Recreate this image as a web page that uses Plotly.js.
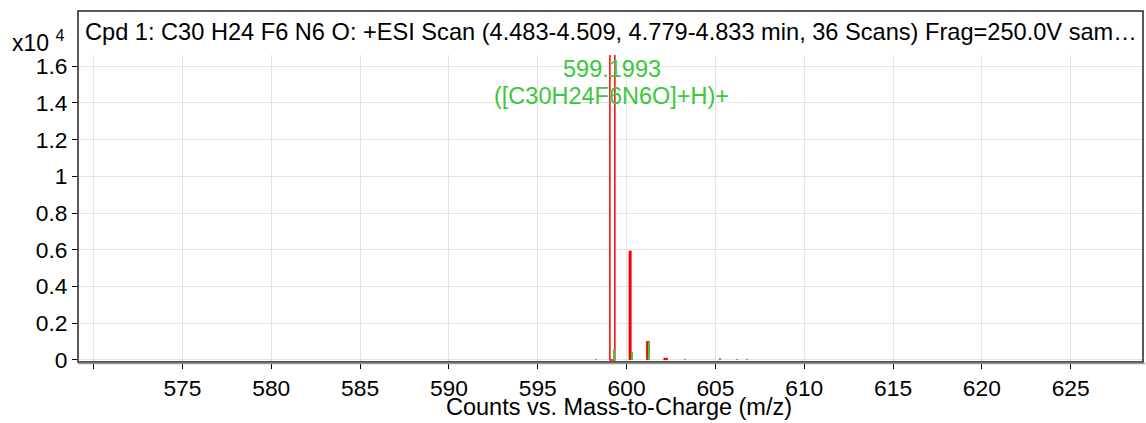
<!DOCTYPE html>
<html>
<head>
<meta charset="utf-8">
<script src="https://cdn.plot.ly/plotly-3.0.1.min.js"></script>
<style>html,body{margin:0;padding:0;background:#fff;}#chart{width:1146px;height:423px;}</style>
</head>
<body>
<div id="chart"></div>
<script>
// Measured spectrum (red) — m/z and counts (x10^4)
const measuredMz = [599.2, 600.2, 601.2, 602.2];
const measuredCounts = [1.70, 0.595, 0.103, 0.012];
const measuredFill = ['#ffffff', '#ff0000', '#ff0000', '#ff0000'];
const measuredWidth = [0.28, 0.17, 0.2, 0.25];
const measuredLine = [1.5, 0, 0, 0];

// Green (predicted / other) sticks
const greenMz = [598.27, 599.30, 600.31, 601.27, 603.28, 605.25, 606.2, 606.8];
const greenCounts = [0.004, 0.06, 0.044, 0.096, 0.004, 0.01, 0.004, 0.004];

// Axis ticks
const xTickVals = [570, 575, 580, 585, 590, 595, 600, 605, 610, 615, 620, 625];
const xTickText = ['', '575', '580', '585', '590', '595', '600', '605', '610', '615', '620', '625'];
const yTickVals = [0, 0.2, 0.4, 0.6, 0.8, 1, 1.2, 1.4, 1.6];

// Texts
const titleText = 'Cpd 1: C30 H24 F6 N6 O: +ESI Scan (4.483-4.509, 4.779-4.833 min, 36 Scans) Frag=250.0V sam\u2026';
const xTitle = 'Counts vs. Mass-to-Charge (m/z)';
const peakLabel1 = '599.1993';
const peakLabel2 = '([C30H24F6N6O]+H)+';

const FONT = 'Liberation Sans, Arial, sans-serif';
const green = 'rgb(60,200,60)';

const traces = [
  {
    type: 'bar', x: measuredMz, y: measuredCounts, width: measuredWidth,
    marker: {color: measuredFill, line: {color: '#ff0000', width: measuredLine}},
    hoverinfo: 'x+y', showlegend: false
  },
  {
    type: 'bar', x: greenMz, y: greenCounts, width: 0.11,
    marker: {color: green, line: {width: 0}},
    hoverinfo: 'x+y', showlegend: false
  }
];

const layout = {
  width: 1146, height: 423,
  margin: {l: 78, r: 3, t: 11, b: 61, pad: 0},
  paper_bgcolor: '#fff', plot_bgcolor: '#fff',
  barmode: 'overlay', bargap: 0,
  font: {family: FONT, size: 22, color: '#000'},
  showlegend: false,
  xaxis: {
    range: [569.12, 629.07],
    tickmode: 'array', tickvals: xTickVals, ticktext: xTickText,
    ticks: 'outside', ticklen: 6, tickcolor: '#000', tickwidth: 1,
    showgrid: true, gridcolor: '#e3e3e3', gridwidth: 1,
    zeroline: false, showline: false,
    tickfont: {family: FONT, size: 22.8, color: '#000'}
  },
  yaxis: {
    domain: [0, 0.8746],
    range: [-0.0109, 1.66],
    tickmode: 'array', tickvals: yTickVals,
    ticks: 'outside', ticklen: 5, tickcolor: '#000', tickwidth: 1,
    showgrid: true, gridcolor: '#e3e3e3', gridwidth: 1,
    zeroline: false, showline: false,
    tickfont: {family: FONT, size: 22.8, color: '#000'}
  },
  shapes: [
    {type: 'rect', xref: 'paper', yref: 'paper', x0: 0, x1: 1, y0: 0, y1: 1,
     line: {color: '#222', width: 1.5}, fillcolor: 'rgba(0,0,0,0)', layer: 'above'},
    {type: 'line', xref: 'paper', yref: 'paper', x0: 0, x1: 1.002, y0: -0.004, y1: -0.004,
     line: {color: '#999', width: 1.5}, layer: 'above'}
  ],
  annotations: [
    {xref: 'paper', yref: 'paper', x: 0, y: 0.940, xanchor: 'left', yanchor: 'middle',
     xshift: 5, text: titleText, showarrow: false,
     font: {family: FONT, size: 23.6, color: '#000'}},
    {xref: 'paper', yref: 'paper', x: -0.064, y: 0.915, xanchor: 'left', yanchor: 'middle',
     text: 'x10 <sup>4</sup>', showarrow: false,
     font: {family: FONT, size: 23, color: '#000'}},
    {xref: 'paper', yref: 'paper', x: 0.508, y: -0.128, xanchor: 'center', yanchor: 'middle',
     text: xTitle, showarrow: false,
     font: {family: FONT, size: 23.5, color: '#000'}},
    {xref: 'x', yref: 'y', x: 599.2, y: 1.584, xanchor: 'center', yanchor: 'middle',
     text: peakLabel1, showarrow: false, font: {family: FONT, size: 23.5, color: green}},
    {xref: 'x', yref: 'y', x: 599.15, y: 1.437, xanchor: 'center', yanchor: 'middle',
     text: peakLabel2, showarrow: false, font: {family: FONT, size: 23.5, color: green}}
  ]
};

Plotly.newPlot('chart', traces, layout, {displayModeBar: false, staticPlot: true});
</script>
</body>
</html>
